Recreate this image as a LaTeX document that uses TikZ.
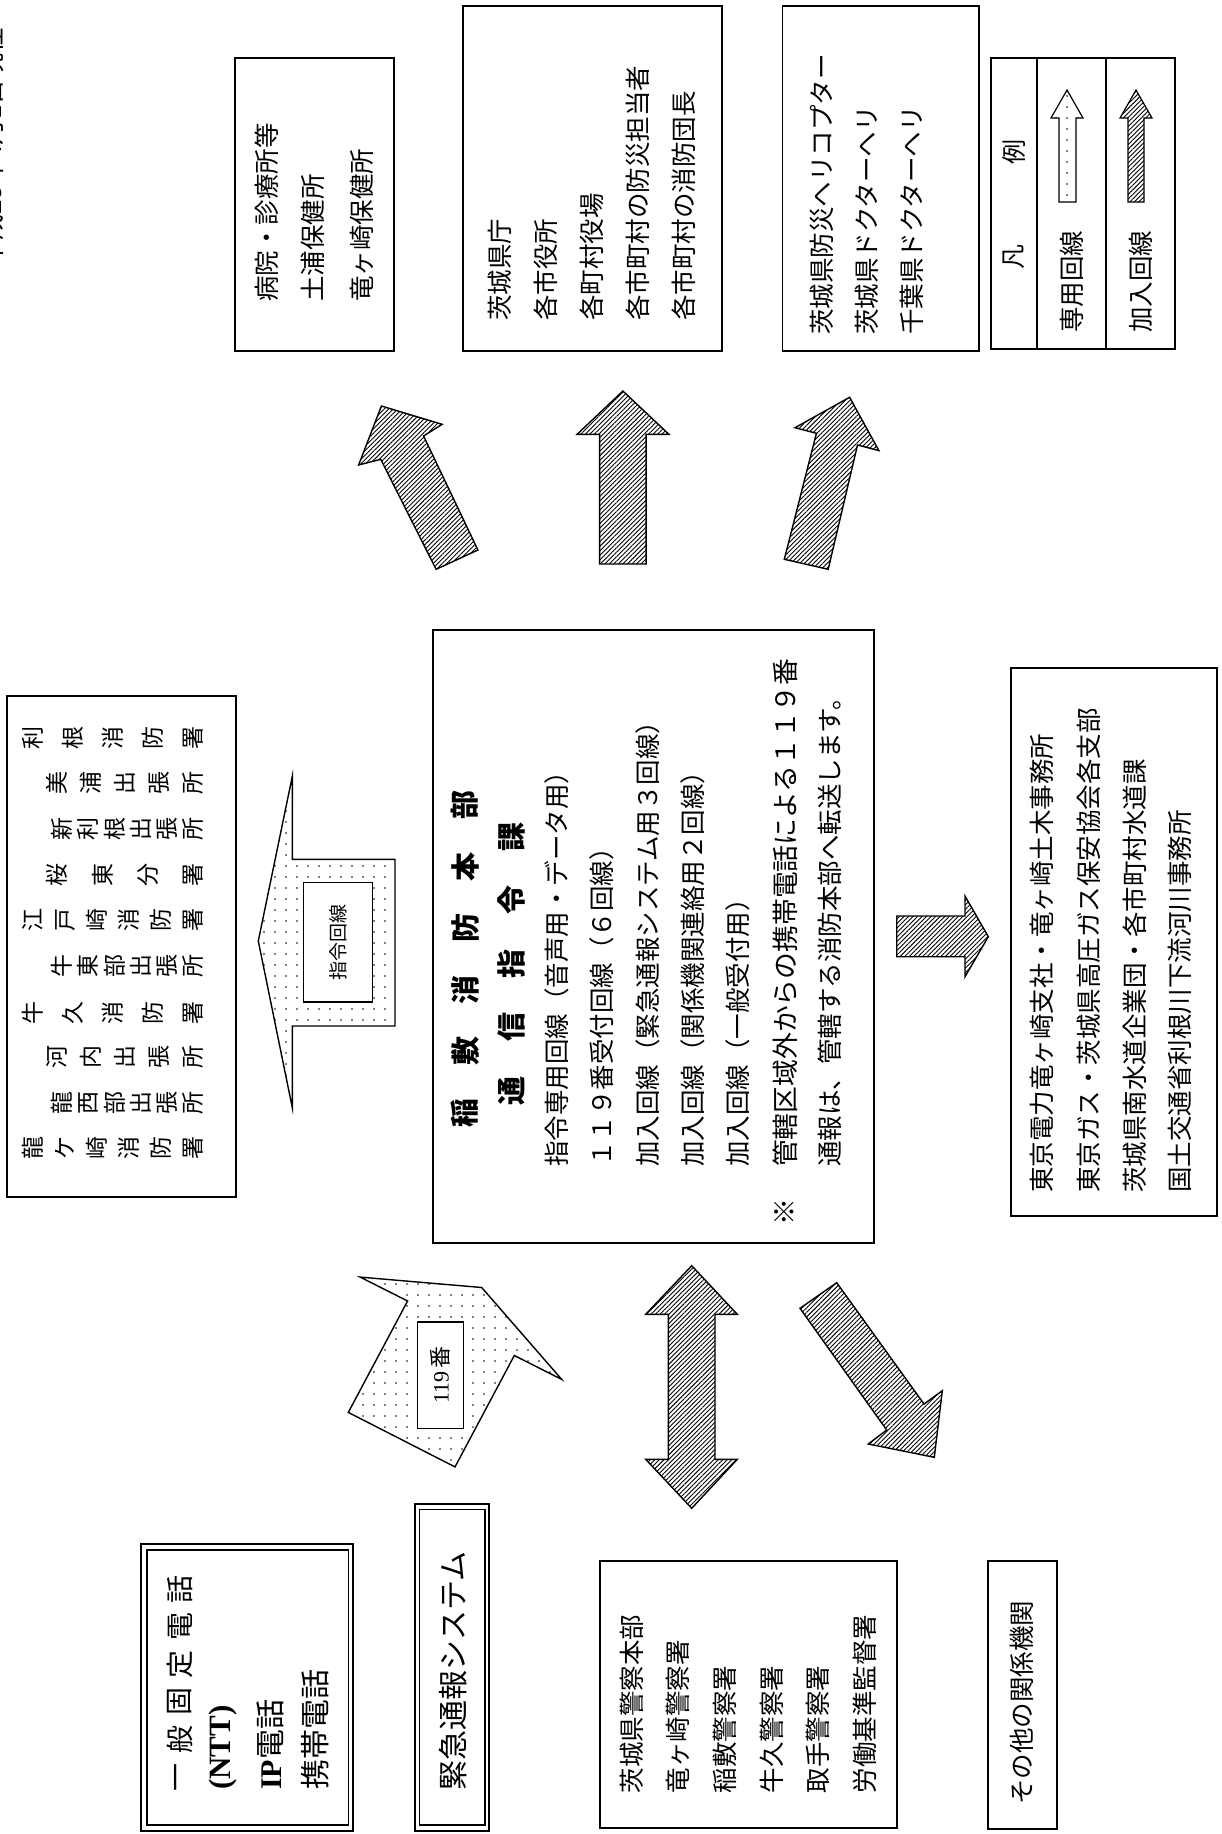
\documentclass[tikz,border=0pt]{standalone}
\usepackage{fontspec}
\newfontfamily\jp{Noto Sans CJK JP}
\newfontfamily\tnr{Liberation Serif}
\usetikzlibrary{patterns.meta}
\newcommand\stnrow[5]{\foreach \cj [count=\i from 0] in {#5} {\node[chr, font=\jp\fontsize{23}{23}\selectfont] (s#1-\i) at (#3+\i*#4, #2) {\cj};}}
\begin{document}
\begin{tikzpicture}[x=1pt,y=-1pt,
  box/.style={draw, line width=1.6pt},
  t/.style={rotate=90, anchor=west, inner sep=0pt, font=\jp\fontsize{25.5}{26}\selectfont},
  chr/.style={rotate=90, inner sep=0pt},
  hatch/.style={draw, line width=1.4pt, line join=miter, preaction={fill=white}, pattern={Lines[angle=45,distance=3.2pt,line width=0.9pt]}},
  dotfill/.style={draw, line width=1.4pt, line join=miter, preaction={fill=white}, pattern={Dots[distance=11pt,radius=0.8pt]}}]
\useasboundingbox (0,0) rectangle (1221,1834);

% date (cut off at the page edge, as in the reference)
\node[t, font=\jp\fontsize{26}{26}\selectfont] (date) at (-8,267) {平成28年4月1日現在};

% top boxes
\draw[box] (235,58) rectangle (394,351);
\node[t] (h1) at (267,302) {病院・診療所等};
\node[t] (h2) at (313,302) {土浦保健所};
\node[t] (h3) at (362,302) {竜ヶ崎保健所};

\draw[box] (463,6) rectangle (722,351);
\node[t] (b1) at (500,321) {茨城県庁};
\node[t] (b2) at (546,321) {各市役所};
\node[t] (b3) at (592,321) {各町村役場};
\node[t] (b4) at (638,321) {各市町村の防災担当者};
\node[t] (b5) at (684,321) {各市町村の消防団長};

\draw[box] (782.5,6) rectangle (979,351);
\node[t] (c1) at (822,335) {茨城県防災ヘリコプター};
\node[t] (c2) at (867,335) {茨城県ドクターヘリ};
\node[t] (c3) at (912,335) {千葉県ドクターヘリ};

% legend
\draw[box] (991,58) rectangle (1175,349);
\draw[box] (1037,58) -- (1037,349);
\draw[box] (1106,58) -- (1106,349);
\node[chr, font=\jp\fontsize{25}{25}\selectfont] (l1) at (1014,257) {凡};
\node[chr, font=\jp\fontsize{25}{25}\selectfont] (l2) at (1014,152) {例};
\node[t] (l3) at (1072,333) {専用回線};
\node[t] (l4) at (1141,333) {加入回線};
\draw[dotfill, line width=1.2pt] (1067,90) -- (1083,118) -- (1076,118) -- (1076,202) -- (1059,202) -- (1059,118) -- (1051,118) -- cycle;
\draw[hatch, line width=1.2pt] (1136,90) -- (1152,118) -- (1144,118) -- (1144,202) -- (1128,202) -- (1128,118) -- (1120,118) -- cycle;

% top arrows
\draw[hatch] (381.4,406) -- (442.1,424.3) -- (423.6,436) -- (477.9,550) -- (436.1,569.3) -- (380.7,459.3) -- (358.6,465) -- cycle;
\draw[hatch] (622.9,391) -- (668.9,434.3) -- (646.1,434.3) -- (646.1,564) -- (599.6,564) -- (599.6,434.3) -- (577.1,434.3) -- cycle;
\draw[hatch] (849.6,397.3) -- (878.9,450.6) -- (857.5,445) -- (828.2,569.3) -- (784.3,559.3) -- (816.4,433.3) -- (795,427.7) -- cycle;

% fire stations box
\draw[box] (7,696) rectangle (236,1197);
\stnrow{a}{1148}{33}{32}{龍,ケ,崎,消,防,署}
\stnrow{b}{1102.5}{62}{26.2}{龍,西,部,出,張,所}
\stnrow{c}{1057}{57}{34}{河,内,出,張,所}
\stnrow{d}{1013}{33}{40}{牛,久,消,防,署}
\stnrow{e}{966}{62}{26.2}{牛,東,部,出,張,所}
\stnrow{f}{920}{33}{32}{江,戸,崎,消,防,署}
\stnrow{g}{874.5}{57}{45.3}{桜,東,分,署}
\stnrow{h}{829}{62}{26.2}{新,利,根,出,張,所}
\stnrow{i}{783}{57}{34}{美,浦,出,張,所}
\stnrow{j}{738}{33}{40}{利,根,消,防,署}

% command line arrow
\draw[dotfill] (258.3,941) -- (292.3,776.3) -- (292.3,859.4) -- (395,859.4) -- (395,1026) -- (292.3,1026) -- (292.3,1107.7) -- cycle;
\draw[line width=1.4pt, fill=white] (303.3,882.2) rectangle (372.3,1001.8);
\node[chr, font=\jp\fontsize{19}{19}\selectfont] (sr) at (337.8,942) {指令回線};

% main box
\draw[box] (433,630) rectangle (874,1243);
\foreach \cj [count=\i from 0] in {稲,敷,消,防,本,部}
  \node[chr, font=\jp\bfseries\fontsize{29}{29}\selectfont] (ta\i) at (465,1113-\i*61.6) {\cj};
\foreach \cj [count=\i from 0] in {通,信,指,令,課}
  \node[chr, font=\jp\bfseries\fontsize{29}{29}\selectfont] (tb\i) at (511.7,1091-\i*63.6) {\cj};
\node[t] (m1) at (556.7,1167) {指令専用回線（音声用・データ用）};
\node[t] (m2) at (601.7,1167) {１１９番受付回線（６回線）};
\node[t] (m3) at (648.3,1167) {加入回線（緊急通報システム用３回線）};
\node[t] (m4) at (693.3,1167) {加入回線（関係機関連絡用２回線）};
\node[t] (m5) at (738.3,1167) {加入回線（一般受付用）};
\node[chr, font=\jp\fontsize{27}{27}\selectfont] (m6a) at (785,1211.6) {※};
\node[t, font=\jp\fontsize{26.8}{27}\selectfont] (m6) at (785,1167) {管轄区域外からの携帯電話による１１９番};
\node[t] (m7) at (830,1167) {通報は、管轄する消防本部へ転送します。};

% 119 arrow
\draw[dotfill] (481.7,1287.5) -- (561.7,1379.4) -- (514.3,1355.5) -- (455,1466.9) -- (348.3,1412.4) -- (407.6,1301) -- (360.2,1277.1) -- cycle;
\draw[line width=1.4pt, fill=white] (417.7,1322) rectangle (463.3,1428.4);
\node[chr, font=\fontsize{22}{22}\selectfont] (n119) at (440.5,1375) {{\tnr 119}\,{\jp 番}};

% bottom arrows
\draw[hatch] (691.7,1265.7) -- (737.3,1314.3) -- (715,1314.3) -- (715,1459.3) -- (737.3,1459.3) -- (691.7,1508.3) -- (645.7,1459.3) -- (668.3,1459.3) -- (668.3,1314.3) -- (645.7,1314.3) -- cycle;
\draw[hatch] (800,1308.3) -- (836.7,1282.7) -- (924,1404) -- (942.3,1390.7) -- (934.3,1457.3) -- (868.3,1444) -- (886.7,1430) -- cycle;
\draw[hatch] (896.7,916) -- (965,916) -- (965,896) -- (988.3,936.7) -- (965,976.7) -- (965,956.7) -- (896.7,956.7) -- cycle;

% other agencies box (right)
\draw[box] (1011,668) rectangle (1217,1216);
\node[t] (e1) at (1041.7,1193) {東京電力竜ヶ崎支社・竜ヶ崎土木事務所};
\node[t] (e2) at (1088.3,1193) {東京ガス・茨城県高圧ガス保安協会各支部};
\node[t] (e3) at (1135,1193) {茨城県南水道企業団・各市町村水道課};
\node[t] (e4) at (1180,1193) {国土交通省利根川下流河川事務所};

% police box
\draw[box] (600,1561) rectangle (897,1828);
\node[t] (p1) at (631.7,1793.3) {茨城県警察本部};
\node[t] (p2) at (678.3,1793.3) {竜ヶ崎警察署};
\node[t] (p3) at (725,1793.3) {稲敷警察署};
\node[t] (p4) at (771.7,1793.3) {牛久警察署};
\node[t] (p5) at (818.3,1793.3) {取手警察署};
\node[t] (p6) at (865,1793.3) {労働基準監督署};

% phone box
\draw[line width=2pt] (140.7,1544) rectangle (353.3,1831);
\draw[line width=1.6pt] (146.7,1550) rectangle (348.3,1825);
\foreach \cj [count=\i from 0] in {一,般,固,定,電,話}
  \node[chr, font=\jp\fontsize{28}{28}\selectfont] (g\i) at (180,1777-\i*37.6) {\cj};
\node[t, font=\tnr\bfseries\fontsize{31}{31}\selectfont] (g7) at (223.3,1790) {(NTT)};
\node[t, font=\jp\fontsize{30}{30}\selectfont] (g8) at (270,1790) {{\tnr\bfseries IP}電話};
\node[t, font=\jp\fontsize{30}{30}\selectfont] (g9) at (315,1790) {携帯電話};

% emergency system box
\draw[line width=2pt] (414.7,1504.4) rectangle (489.3,1831);
\draw[line width=1.6pt] (419.3,1509.5) rectangle (485,1825);
\node[t, font=\jp\fontsize{30}{30}\selectfont] (k1) at (453.3,1790.5) {緊急通報システム};

% other box (bottom)
\draw[box] (987.7,1561) rectangle (1056.7,1829);
\node[t] (o1) at (1021.7,1805) {その他の関係機関};
\end{tikzpicture}
\end{document}
